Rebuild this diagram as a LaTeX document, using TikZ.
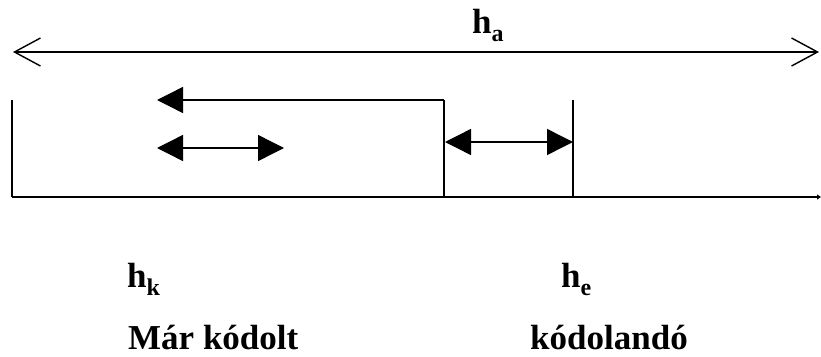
\documentclass[tikz,border=0pt]{standalone}
\usepackage{fontspec}
\setmainfont{Liberation Serif}
\usetikzlibrary{arrows.meta}
\newcommand{\subtxt}[1]{\raisebox{-8.5pt}{\fontsize{24}{26}\selectfont #1}}
\begin{document}
\begin{tikzpicture}[x=1pt,y=-1pt,
  open/.style={line width=1.4pt,{Straight Barb[length=26pt,width=28pt,line width=1.4pt]}-{Straight Barb[length=26pt,width=28pt,line width=1.4pt]}},
  solid arrow/.tip={Triangle[length=26pt,width=26pt]},
  thin line/.style={line width=1.4pt},
  thick line/.style={line width=2.5pt},
  lbl/.style={inner sep=0pt,anchor=base west,font=\fontsize{35}{40}\selectfont\bfseries}]
\useasboundingbox (0,0) rectangle (821,356);
% coordinates
\coordinate (taL) at (13,52);
\coordinate (taR) at (819,52);
\coordinate (vL0) at (12,100);
\coordinate (vL1) at (12,197);
\coordinate (bR) at (821,197);
\coordinate (box0) at (444,100);
\coordinate (box1) at (444,197);
\coordinate (v20) at (573,100);
\coordinate (v21) at (573,197);
\coordinate (a1) at (157,100);
\coordinate (a2L) at (157,148);
\coordinate (a2R) at (284,148);
\coordinate (a3L) at (445,142);
\coordinate (a3R) at (573,142);
% top arrow
\draw[open] (taL) -- (taR);
% frame
\draw[thick line] (vL0) -- (vL1);
\draw[line width=2pt,-{Triangle[length=4pt,width=5pt]}] (vL1) -- (bR);
\draw[line width=2pt] (box1) -- (box0);
\draw[thin line,-{solid arrow}] (box0) -- (a1);
\draw[thick line] (v20) -- (v21);
\draw[thin line,{solid arrow}-{solid arrow}] (a2L) -- (a2R);
\draw[thin line,{solid arrow}-{solid arrow}] (a3L) -- (a3R);
% labels
\node[lbl] (ha) at (472,33) {h\subtxt{a}};
\node[lbl] (hk) at (127,287) {h\subtxt{k}};
\node[lbl] (he) at (561,287) {h\subtxt{e}};
\node[lbl] (mk) at (128,349) {Már kódolt};
\node[lbl] (kd) at (530,349) {kódolandó};
\end{tikzpicture}
\end{document}
